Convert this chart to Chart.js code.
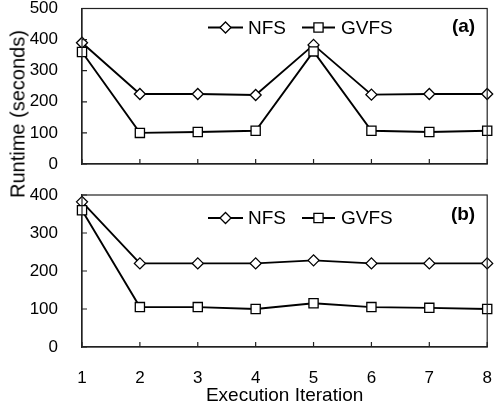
<!DOCTYPE html>
<html>
<head>
<meta charset="utf-8">
<script src="https://cdn.jsdelivr.net/npm/chart.js@4"></script>
<style>
  body { margin: 0; background: #fff; }
  #wrap { position: relative; width: 495px; height: 408px; }
  canvas { position: absolute; left: 0; }
  #ytitle {
    position: absolute; left: 18px; top: 114px;
    transform: translate(-50%, -50%) rotate(-90deg);
    font: 20px "Liberation Sans", Arial, sans-serif; white-space: nowrap; color: #000;
  }
</style>
</head>
<body>
<div id="wrap">
  <canvas id="chartA" width="495" height="180" style="top:0"></canvas>
  <canvas id="chartB" width="495" height="228" style="top:180px"></canvas>
  <div id="ytitle">Runtime (seconds)</div>
</div>
<script>
const iterations = ['1', '2', '3', '4', '5', '6', '7', '8'];
// panel (a)
const nfsA = [390, 225, 225, 222, 383, 223, 225, 225];
const gvfsA = [360, 100, 103, 107, 362, 107, 103, 107];
// panel (b)
const nfsB = [382, 220, 220, 220, 228, 220, 220, 220];
const gvfsB = [360, 105, 105, 100, 115, 105, 103, 100];

const FONT = '"Liberation Sans", Arial, sans-serif';

// draws the box, inward ticks, legend and panel tag
const framePlugin = {
    id: 'frame',
    afterDatasetsDraw(chart, args, opts) {
        const ctx = chart.ctx;
        const a = chart.chartArea;
        ctx.save();
        ctx.strokeStyle = '#222';
        ctx.lineWidth = 1.2;
        ctx.strokeRect(a.left, a.top, a.right - a.left, a.bottom - a.top);

        // inward ticks
        const xs = chart.scales.x, ys = chart.scales.y;
        ctx.beginPath();
        xs.ticks.forEach((t, i) => {
            const px = xs.getPixelForTick(i);
            ctx.moveTo(px, a.bottom);
            ctx.lineTo(px, a.bottom - 5);
        });
        ys.ticks.forEach((t, i) => {
            const py = ys.getPixelForTick(i);
            ctx.moveTo(a.left, py);
            ctx.lineTo(a.left + 5, py);
        });
        ctx.stroke();

        // legend
        const ly = a.top + opts.legendY;
        const items = [
            { ds: chart.data.datasets[0], x0: 126, x1: 161, tx: 166 },
            { ds: chart.data.datasets[1], x0: 220, x1: 253, tx: 259 }
        ];
        ctx.font = '19px ' + FONT;
        ctx.textBaseline = 'middle';
        items.forEach(it => {
            ctx.strokeStyle = it.ds.borderColor;
            ctx.lineWidth = it.ds.borderWidth;
            ctx.beginPath();
            ctx.moveTo(a.left + it.x0, ly);
            ctx.lineTo(a.left + it.x1, ly);
            ctx.stroke();
            ctx.fillStyle = it.ds.pointBackgroundColor;
            ctx.strokeStyle = it.ds.pointBorderColor;
            ctx.lineWidth = it.ds.pointBorderWidth;
            Chart.helpers.drawPoint(ctx, {
                pointStyle: it.ds.pointStyle, radius: it.ds.pointRadius,
                borderWidth: it.ds.pointBorderWidth, rotation: 0
            }, a.left + (it.x0 + it.x1) / 2, ly);
            ctx.fillStyle = '#000';
            ctx.fillText(it.ds.label, a.left + it.tx, ly + 1);
        });

        ctx.font = 'bold 19px ' + FONT;
        ctx.textAlign = 'right';
        ctx.fillText(opts.tag, a.right - 12, a.top + opts.tagY);
        ctx.restore();
    }
};

function makeDatasets(nfs, gvfs) {
    return [
        {
            label: 'NFS', data: nfs, order: 1,
            borderColor: '#000', borderWidth: 1.9, tension: 0,
            pointStyle: 'rectRot', pointRadius: 5.5,
            pointBackgroundColor: '#fff', pointBorderColor: '#000', pointBorderWidth: 1.3,
            clip: false
        },
        {
            label: 'GVFS', data: gvfs, order: 0,
            borderColor: '#000', borderWidth: 1.9, tension: 0,
            pointStyle: 'rect', pointRadius: 6.5,
            pointBackgroundColor: '#fff', pointBorderColor: '#000', pointBorderWidth: 1.3,
            clip: false
        }
    ];
}

function makeChart(id, nfs, gvfs, yMax, opts) {
    return new Chart(document.getElementById(id), {
        type: 'line',
        data: { labels: iterations, datasets: makeDatasets(nfs, gvfs) },
        options: {
            responsive: false,
            animation: false,
            layout: { padding: { top: opts.padTop, right: 5, left: 0, bottom: 0 } },
            plugins: {
                legend: { display: false },
                tooltip: { enabled: false },
                frame: { tag: opts.tag, legendY: opts.legendY, tagY: opts.tagY }
            },
            scales: {
                x: {
                    type: 'category',
                    offset: false,
                    // invisible grid: tickLength only spaces the labels
                    grid: { display: true, drawOnChartArea: false, color: 'transparent', tickLength: 21 },
                    border: { display: true, color: '#222', width: 1.2 },
                    ticks: {
                        display: opts.showX, color: '#000', padding: 0,
                        font: { size: 17, family: FONT }, maxRotation: 0
                    },
                    title: {
                        display: opts.showX, text: 'Execution Iteration', color: '#000',
                        font: { size: 19, family: FONT }, padding: { top: 0, bottom: 1 }
                    },
                    afterFit: (s) => { s.height = opts.xHeight; }
                },
                y: {
                    min: 0, max: yMax,
                    grid: { display: true, drawOnChartArea: false, color: 'transparent', tickLength: 24 },
                    border: { display: true, color: '#222', width: 1.2 },
                    ticks: {
                        stepSize: 100, color: '#000', padding: 0,
                        font: { size: 17, family: FONT, lineHeight: 1 }
                    },
                    afterFit: (s) => { s.width = 82; }
                }
            }
        },
        plugins: [framePlugin]
    });
}

makeChart('chartA', nfsA, gvfsA, 500,
    { padTop: 8, xHeight: 16, showX: false, tag: '(a)', legendY: 19, tagY: 18 });
makeChart('chartB', nfsB, gvfsB, 400,
    { padTop: 15, xHeight: 61, showX: true, tag: '(b)', legendY: 23, tagY: 20 });
</script>
</body>
</html>
